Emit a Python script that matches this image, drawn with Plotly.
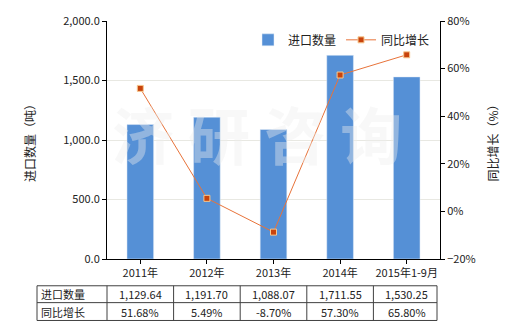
import plotly.graph_objects as go

categories = ["2011年", "2012年", "2013年", "2014年", "2015年1-9月"]
import_qty = [1129.64, 1191.70, 1088.07, 1711.55, 1530.25]
growth_pct = [51.68, 5.49, -8.70, 57.30, 65.80]
qty_labels = ["1,129.64", "1,191.70", "1,088.07", "1,711.55", "1,530.25"]
growth_labels = ["51.68%", "5.49%", "-8.70%", "57.30%", "65.80%"]
row_names = ["进口数量", "同比增长"]

FONT = "Noto Sans CJK SC"
W, H = 520, 330
L, R, T, B = 107, 80, 19, 71
pw = W - L - R
ph = H - T - B

fig = go.Figure()
fig.add_trace(go.Bar(x=categories, y=import_qty, name="进口数量",
                     marker_color="#5590d6", width=0.4, yaxis="y"))
fig.add_trace(go.Scatter(x=categories, y=growth_pct, name="同比增长", yaxis="y2",
                         mode="lines+markers",
                         line=dict(color="#e8733a", width=1),
                         marker=dict(symbol="square", size=6, color="#c8430c",
                                     line=dict(color="#f7c98f", width=1))))

def px_to_xpaper(px):
    return (px - L) / pw

def px_to_ypaper(py):
    return (H - B - py) / ph

n = len(categories)
colw = pw / n
shapes = []
annotations = []
table_left = 37
table_right = L + pw - 3
row_tops = [286, 303, 321]
for yy in row_tops:
    shapes.append(dict(type="line", xref="paper", yref="paper",
                       x0=px_to_xpaper(table_left), x1=px_to_xpaper(table_right),
                       y0=px_to_ypaper(yy), y1=px_to_ypaper(yy),
                       line=dict(color="#404040", width=1)))
vx = [table_left] + [L + i * colw for i in range(n)] + [table_right]
for xx in vx:
    shapes.append(dict(type="line", xref="paper", yref="paper",
                       x0=px_to_xpaper(xx), x1=px_to_xpaper(xx),
                       y0=px_to_ypaper(row_tops[0]), y1=px_to_ypaper(row_tops[-1]),
                       line=dict(color="#404040", width=1)))
rows = [qty_labels, growth_labels]
for r, vals in enumerate(rows):
    yc = px_to_ypaper((row_tops[r] + row_tops[r + 1]) / 2)
    annotations.append(dict(xref="paper", yref="paper", x=px_to_xpaper(table_left + 2),
                            y=yc, text=row_names[r], showarrow=False,
                            xanchor="left", yanchor="middle",
                            font=dict(family=FONT, size=11, color="#222")))
    for i, v in enumerate(vals):
        annotations.append(dict(xref="paper", yref="paper",
                                x=px_to_xpaper(L + (i + 0.5) * colw), y=yc,
                                text=v, showarrow=False, xanchor="center",
                                yanchor="middle",
                                font=dict(family=FONT, size=11, color="#222")))

# left axis title placed explicitly
annotations.append(dict(xref="paper", yref="paper", x=px_to_xpaper(29),
                        y=0.5, text="进口数量（吨）", textangle=-90, showarrow=False,
                        xanchor="center", yanchor="middle",
                        font=dict(family=FONT, size=12, color="#222")))

# watermark
annotations.append(dict(xref="paper", yref="paper", x=0.45, y=0.33,
                        text="<b>济 研 咨 询</b>", showarrow=False,
                        font=dict(family=FONT, size=62, color="rgba(238,238,238,0.4)")))

fig.update_layout(
    width=W, height=H,
    margin=dict(l=L, r=R, t=T, b=B),
    paper_bgcolor="white", plot_bgcolor="white",
    font=dict(family=FONT, size=11, color="#222"),
    showlegend=True,
    legend=dict(orientation="h", x=px_to_xpaper(248), y=px_to_ypaper(38),
                xanchor="left", yanchor="middle", bgcolor="rgba(0,0,0,0)",
                font=dict(family=FONT, size=12, color="#222"),
                itemwidth=30, tracegroupgap=0),
    xaxis=dict(type="category", range=[-0.5, n - 0.5], showline=True,
               linecolor="black", linewidth=1, ticks="outside", ticklen=4,
               tickcolor="black", showgrid=False, tickfont=dict(size=11)),
    yaxis=dict(range=[0, 2000], dtick=500, tickformat=",.1f", showline=True,
               linecolor="black", linewidth=1, ticks="outside", ticklen=4,
               tickcolor="black", showgrid=True, gridcolor="#e8e8e2",
               zeroline=False, tickfont=dict(size=11)),
    yaxis2=dict(range=[-20, 80], dtick=20, ticksuffix="%", overlaying="y",
                side="right", showline=True, linecolor="black", linewidth=1,
                ticks="outside", ticklen=4, tickcolor="black", showgrid=False,
                zeroline=False, tickfont=dict(size=11),
                title=dict(text="同比增长（%）", font=dict(size=12), standoff=14)),
    bargap=0.6,
    shapes=shapes,
    annotations=annotations,
)

fig.write_html("out.html")
